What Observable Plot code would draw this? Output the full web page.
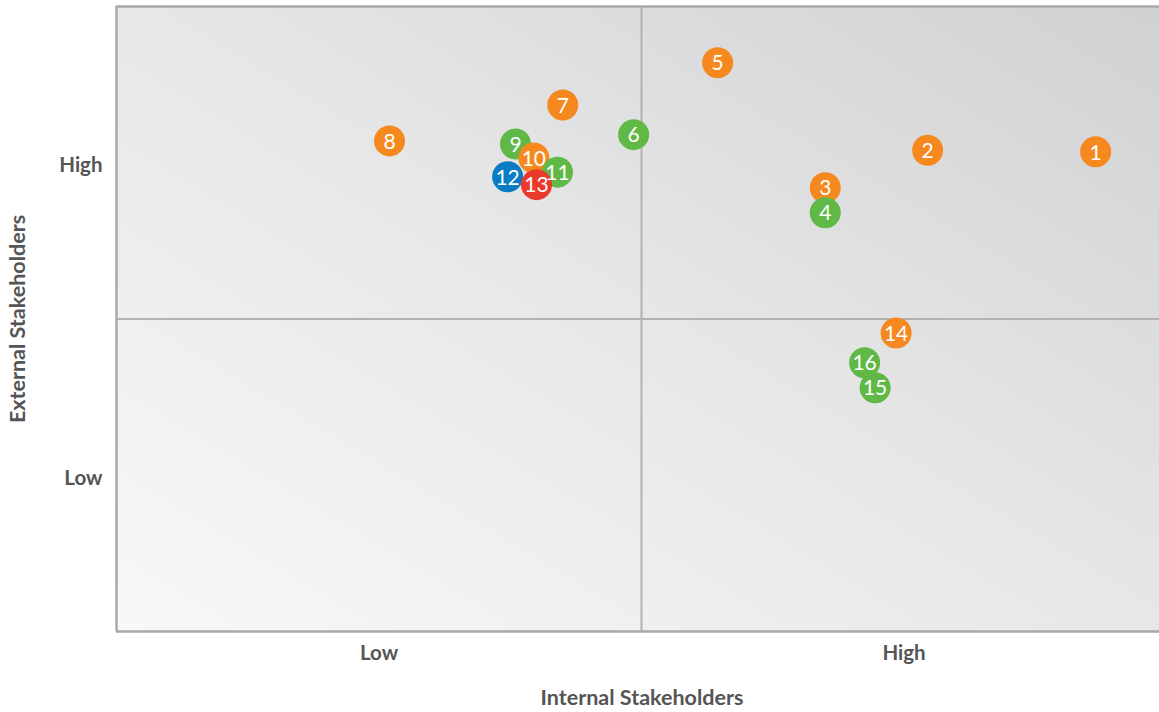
<!DOCTYPE html>
<html>
<head>
<meta charset="utf-8">
<script src="https://cdn.jsdelivr.net/npm/d3@7"></script>
<script src="https://cdn.jsdelivr.net/npm/@observablehq/plot@0.6"></script>
<style>
  html, body { margin: 0; padding: 0; background: #fff; overflow: hidden; }
  #chart svg { display: block; }
</style>
</head>
<body>
<div id="chart"></div>
<script>
// Data
const ids = [1, 2, 3, 4, 5, 6, 7, 8, 9, 10, 11, 12, 13, 14, 15, 16];
const internal = [3.73, 3.09, 2.70, 2.70, 2.29, 1.97, 1.70, 1.04, 1.52, 1.59, 1.68, 1.49, 1.60, 2.97, 2.89, 2.85];
const external = [3.07, 3.08, 2.84, 2.68, 3.64, 3.18, 3.37, 3.14, 3.12, 3.03, 2.94, 2.91, 2.86, 1.91, 1.56, 1.72];
const groups = ["A", "A", "A", "B", "A", "B", "A", "A", "B", "A", "B", "C", "D", "A", "B", "B"];
const groupDomain = ["A", "B", "C", "D"];
const groupColors = ["#F5891F", "#60B947", "#0A7CC4", "#E93A2C"];
const tickValues = [1, 3];
const tickLabels = ["Low", "High"];
const xTitle = "Internal Stakeholders";
const yTitle = "External Stakeholders";

const data = ids.map((id, i) => ({id, x: internal[i], y: external[i], g: groups[i]}));

const background = (index, scales, values, dims) => {
  const g = d3.create("svg:g");
  const defs = g.append("defs");
  const grad = defs.append("linearGradient")
    .attr("id", "bgGrad")
    .attr("x1", 0).attr("y1", 1).attr("x2", 1).attr("y2", 0);
  grad.append("stop").attr("offset", "0%").attr("stop-color", "#f8f8f8");
  grad.append("stop").attr("offset", "50%").attr("stop-color", "#e7e7e8");
  grad.append("stop").attr("offset", "100%").attr("stop-color", "#d0d1d3");
  g.append("rect")
    .attr("x", dims.marginLeft)
    .attr("y", dims.marginTop)
    .attr("width", dims.width - dims.marginLeft - dims.marginRight)
    .attr("height", dims.height - dims.marginTop - dims.marginBottom)
    .attr("fill", "url(#bgGrad)");
  return g.node();
};

const fmt = d => tickLabels[tickValues.indexOf(d)];

const chart = Plot.plot({
  width: 1159,
  height: 712,
  marginLeft: 116,
  marginRight: 0,
  marginTop: 6,
  marginBottom: 81,
  style: {fontFamily: "Lato, 'Noto Sans', sans-serif", fontWeight: "bold", color: "#555", background: "#fff"},
  x: {domain: [0, 4], range: [116, 1166]},
  y: {domain: [0, 4]},
  color: {type: "ordinal", domain: groupDomain, range: groupColors},
  marks: [
    background,
    Plot.ruleX([2], {stroke: "#b2b2b4", strokeWidth: 2}),
    Plot.ruleY([2], {stroke: "#b2b2b4", strokeWidth: 2}),
    Plot.ruleX([0], {stroke: "#a9a9ab", strokeWidth: 2.5}),
    Plot.ruleY([0, 4], {stroke: "#a9a9ab", strokeWidth: 2.5}),
    Plot.axisX({ticks: tickValues, tickFormat: fmt, tickSize: 0, tickPadding: 14, fontSize: 20.5, label: null}),
    Plot.axisY({ticks: tickValues, tickFormat: fmt, tickSize: 0, tickPadding: 14, fontSize: 20.5, label: null, dy: 3}),
    Plot.text([xTitle], {text: d => d, frameAnchor: "bottom", lineAnchor: "middle", dx: 4, dy: 67, fontSize: 21.5, fill: "#555"}),
    Plot.text([yTitle], {text: d => d, frameAnchor: "left", textAnchor: "middle", lineAnchor: "middle", rotate: -90, dx: -98, fontSize: 21.5, fill: "#555"}),
    Plot.dot(data, {x: "x", y: "y", r: 15.5, fill: "g", stroke: "none"}),
    Plot.text(data, {x: "x", y: "y", text: "id", fill: "#fff", fontSize: 21, fontWeight: "normal", dy: 1})
  ]
});
document.getElementById("chart").appendChild(chart);
</script>
</body>
</html>
